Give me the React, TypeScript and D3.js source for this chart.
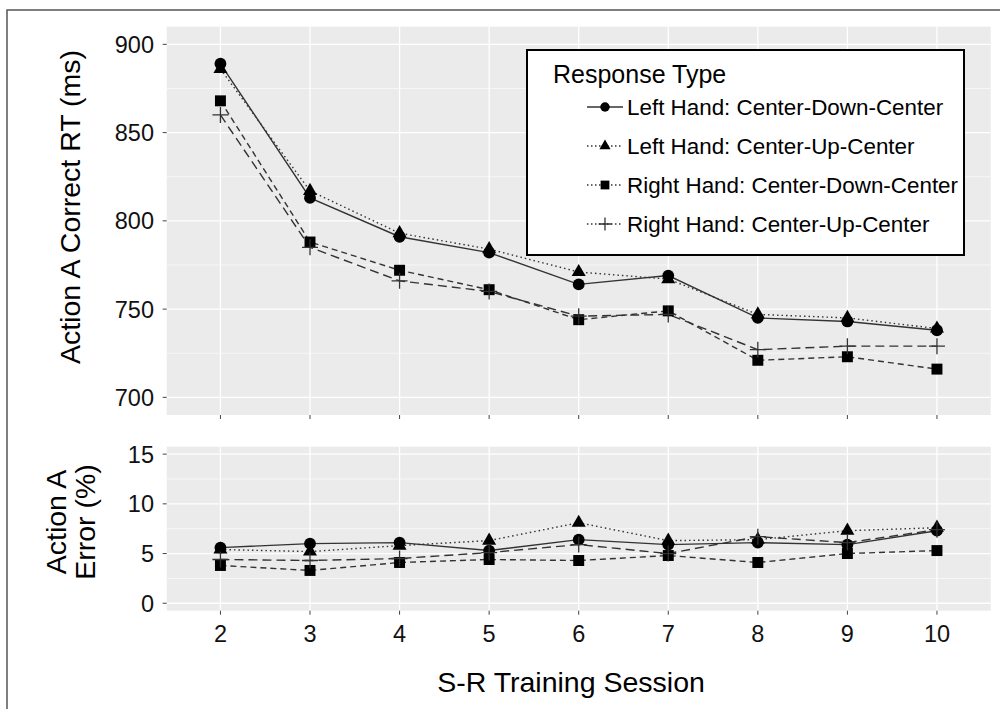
import { useRef, useEffect } from 'react';
import * as d3 from 'd3';

const sessions = [2, 3, 4, 5, 6, 7, 8, 9, 10];
const seriesNames = [
  'Left Hand: Center-Down-Center',
  'Left Hand: Center-Up-Center',
  'Right Hand: Center-Down-Center',
  'Right Hand: Center-Up-Center',
];

// mean correct RT (ms)
const rtLeftDown = [889, 813, 791, 782, 764, 769, 745, 743, 738];
const rtLeftUp = [886, 817, 793, 784, 771, 767, 747, 745, 739];
const rtRightDown = [868, 788, 772, 761, 744, 749, 721, 723, 716];
const rtRightUp = [860, 785, 766, 760, 746, 747, 727, 729, 729];

// error rate (%)
const errLeftDown = [5.6, 6.0, 6.1, 5.3, 6.4, 5.9, 6.1, 5.9, 7.3];
const errLeftUp = [5.4, 5.2, 5.8, 6.3, 8.1, 6.3, 6.4, 7.3, 7.6];
const errRightDown = [3.8, 3.3, 4.1, 4.4, 4.3, 4.8, 4.1, 5.0, 5.3];
const errRightUp = [4.4, 4.3, 4.5, 5.1, 5.9, 5.0, 6.7, 6.1, 7.4];

const rtTicks = [700, 750, 800, 850, 900];
const rtMinor = [725, 775, 825, 875];
const errTicks = [0, 5, 10, 15];
const errMinor = [2.5, 7.5, 12.5];

const SHAPES = ['circle', 'triangle', 'square', 'plus'];
const DASHES = [null, '1.5,3', '6,4', '9,5'];
const FONT = '"Liberation Sans", Arial, sans-serif';

function drawMarker(g, shape, x, y, scale = 1) {
  if (shape === 'plus') {
    const s = 8 * scale;
    g.append('path')
      .attr('d', `M${x - s},${y}H${x + s}M${x},${y - s}V${y + s}`)
      .attr('stroke', '#333').attr('stroke-width', 1.3).attr('fill', 'none');
    return;
  }
  const type = shape === 'circle' ? d3.symbolCircle : shape === 'square' ? d3.symbolSquare : d3.symbolTriangle;
  const size = shape === 'circle' ? 110 : shape === 'square' ? 120 : 85;
  g.append('path')
    .attr('d', d3.symbol().type(type).size(size * scale * scale)())
    .attr('transform', `translate(${x},${y})`)
    .attr('fill', '#000');
}

export default function App() {
  const svgRef = useRef(null);

  useEffect(() => {
    document.body.style.margin = '0';
    const svg = d3.select(svgRef.current);
    svg.selectAll('*').remove();

    // outer frame
    svg.append('rect').attr('x', 7).attr('y', 10).attr('width', 1100).attr('height', 900)
      .attr('fill', 'none').attr('stroke', '#555').attr('stroke-width', 1.5);

    const x = d3.scalePoint().domain(sessions).range([166.7, 990.7]).padding(0.6);

    const panels = [
      { y: d3.scaleLinear().domain([690, 910]).range([415, 26.7]), ticks: rtTicks, minor: rtMinor,
        data: [rtLeftDown, rtLeftUp, rtRightDown, rtRightUp] },
      { y: d3.scaleLinear().domain([-0.75, 15.75]).range([610.7, 446.7]), ticks: errTicks, minor: errMinor,
        data: [errLeftDown, errLeftUp, errRightDown, errRightUp] },
    ];

    panels.forEach(p => {
      const [y0, y1] = p.y.range();
      const [x0, x1] = x.range();
      const g = svg.append('g');
      g.append('rect').attr('x', x0).attr('y', y1).attr('width', x1 - x0).attr('height', y0 - y1).attr('fill', '#EBEBEB');
      g.selectAll('.minor').data(p.minor).enter().append('line')
        .attr('x1', x0).attr('x2', x1).attr('y1', d => p.y(d)).attr('y2', d => p.y(d))
        .attr('stroke', '#fff').attr('stroke-width', 0.6);
      g.selectAll('.major').data(p.ticks).enter().append('line')
        .attr('x1', x0).attr('x2', x1).attr('y1', d => p.y(d)).attr('y2', d => p.y(d))
        .attr('stroke', '#fff').attr('stroke-width', 1.3);
      g.selectAll('.vx').data(sessions).enter().append('line')
        .attr('x1', d => x(d)).attr('x2', d => x(d)).attr('y1', y1).attr('y2', y0)
        .attr('stroke', '#fff').attr('stroke-width', 1.3);

      // ticks
      p.ticks.forEach(t => {
        g.append('line').attr('x1', x0 - 4).attr('x2', x0).attr('y1', p.y(t)).attr('y2', p.y(t))
          .attr('stroke', '#444').attr('stroke-width', 1);
        g.append('text').attr('x', 154).attr('y', p.y(t)).attr('dy', '0.36em')
          .attr('text-anchor', 'end').attr('font-family', FONT).attr('font-size', 23.5).attr('fill', '#111')
          .text(t);
      });
      sessions.forEach(s => {
        g.append('line').attr('x1', x(s)).attr('x2', x(s)).attr('y1', y0).attr('y2', y0 + 4)
          .attr('stroke', '#444').attr('stroke-width', 1);
      });

      // lines then markers
      p.data.forEach((vals, i) => {
        const line = d3.line().x((d, j) => x(sessions[j])).y(d => p.y(d));
        g.append('path').attr('d', line(vals)).attr('fill', 'none')
          .attr('stroke', '#333').attr('stroke-width', 1.4)
          .attr('stroke-dasharray', DASHES[i]);
      });
      p.data.forEach((vals, i) => {
        vals.forEach((v, j) => drawMarker(g, SHAPES[i], x(sessions[j]), p.y(v)));
      });
    });

    // x tick labels
    sessions.forEach(s => {
      svg.append('text').attr('x', x(s)).attr('y', 642).attr('text-anchor', 'middle')
        .attr('font-family', FONT).attr('font-size', 23.5).attr('fill', '#111').text(s);
    });

    // axis titles
    svg.append('text').attr('x', 571).attr('y', 692).attr('text-anchor', 'middle')
      .attr('font-family', FONT).attr('font-size', 28.5).attr('fill', '#000').text('S-R Training Session');
    svg.append('text').attr('transform', 'translate(80,207) rotate(-90)').attr('text-anchor', 'middle')
      .attr('font-family', FONT).attr('font-size', 28.5).attr('fill', '#000').text('Action A Correct RT (ms)');
    const eg = svg.append('text').attr('transform', 'translate(0,522) rotate(-90)').attr('text-anchor', 'middle')
      .attr('font-family', FONT).attr('font-size', 28.5).attr('fill', '#000');
    eg.append('tspan').attr('x', 0).attr('y', 66).text('Action A');
    eg.append('tspan').attr('x', 0).attr('y', 95).text('Error (%)');

    // legend
    const lg = svg.append('g');
    lg.append('rect').attr('x', 527).attr('y', 50).attr('width', 437).attr('height', 205)
      .attr('fill', '#fff').attr('stroke', '#000').attr('stroke-width', 2);
    lg.append('text').attr('x', 553).attr('y', 83).attr('font-family', FONT).attr('font-size', 25)
      .attr('fill', '#000').text('Response Type');
    seriesNames.forEach((name, i) => {
      const cy = 107 + i * 39;
      lg.append('line').attr('x1', 587).attr('x2', 623).attr('y1', cy).attr('y2', cy)
        .attr('stroke', '#333').attr('stroke-width', 1.4)
        .attr('stroke-dasharray', i === 0 ? null : '1.5,2.5');
      drawMarker(lg, SHAPES[i], 605, cy, 0.8);
      lg.append('text').attr('x', 627).attr('y', cy).attr('dy', '0.36em')
        .attr('font-family', FONT).attr('font-size', 22.4).attr('fill', '#000').text(name);
    });
  }, []);

  return <svg ref={svgRef} width={1000} height={709} style={{ display: 'block' }} />;
}
